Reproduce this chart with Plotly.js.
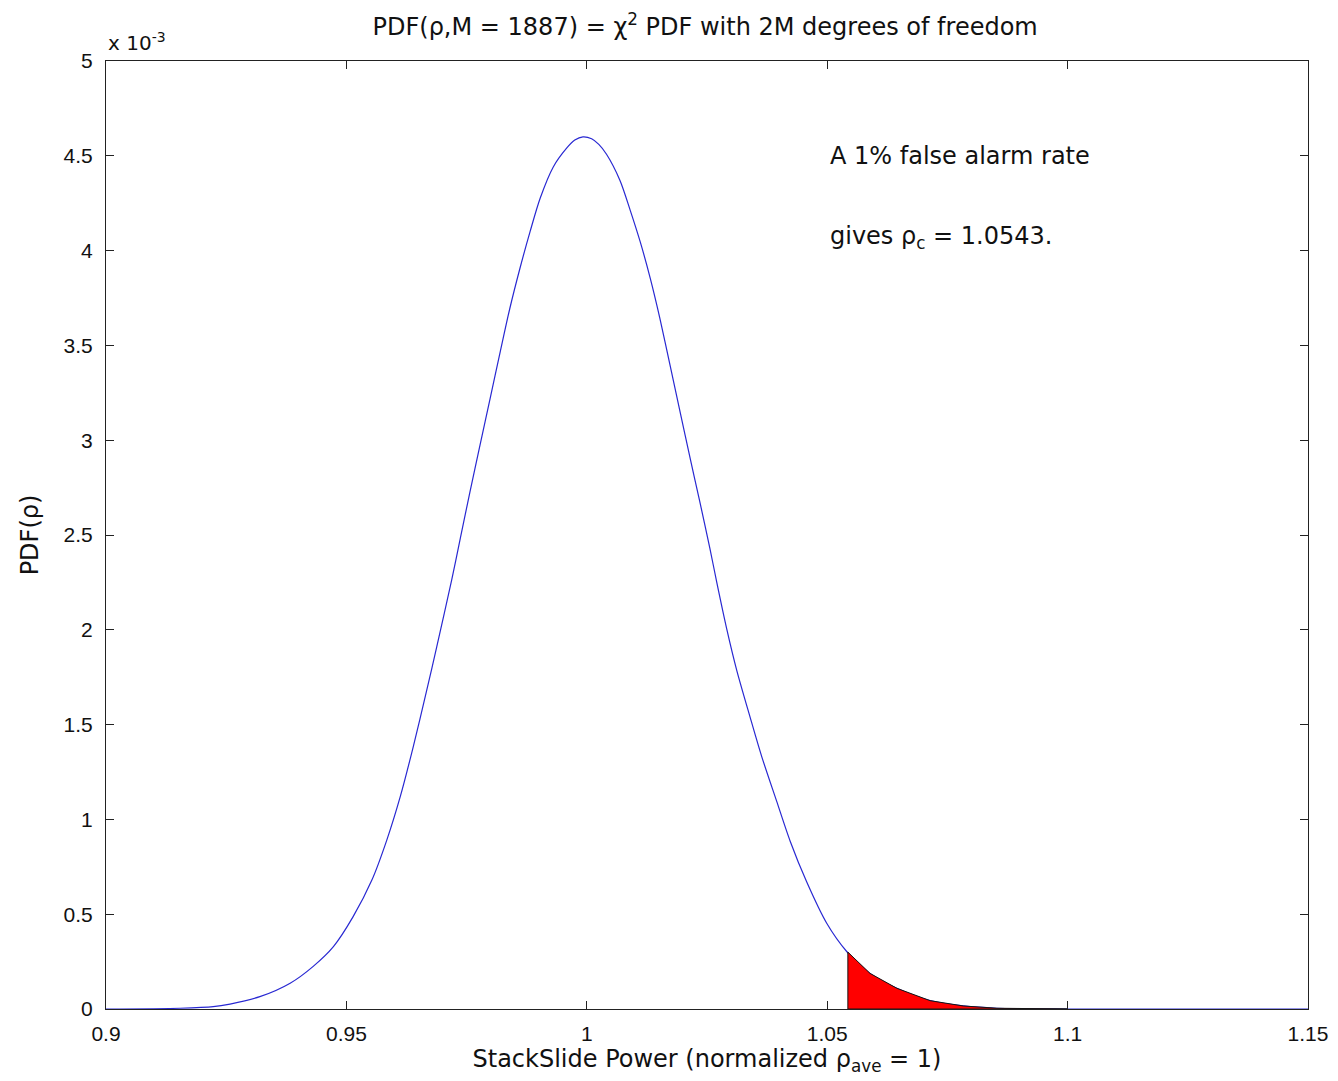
<!DOCTYPE html>
<html>
<head>
<meta charset="utf-8">
<script src="https://cdn.plot.ly/plotly-3.0.1.min.js"></script>
<style>html,body{margin:0;padding:0;background:#fff;}#chart{width:1338px;height:1081px;}</style>
</head>
<body>
<div id="chart"></div>
<script>
// StackSlide power (normalized) and PDF values (in units of 1e-3)
const rho = [0.9000, 0.9154, 0.9223, 0.9258, 0.9320, 0.9383, 0.9431, 0.9473, 0.9514, 0.9553,
             0.9584, 0.9612, 0.9639, 0.9667, 0.9688, 0.9719, 0.9737, 0.9757, 0.9778, 0.9799,
             0.9820, 0.9840, 0.9861, 0.9882, 0.9903, 0.9930, 0.9958, 0.9975, 0.9992, 1.0010,
             1.0025, 1.0041, 1.0069,
             1.0090, 1.0111, 1.0132, 1.0152, 1.0173, 1.0194, 1.0215, 1.0235, 1.0256, 1.0270,
             1.0291, 1.0312, 1.0339, 1.0364, 1.0395, 1.0423, 1.0457, 1.0499, 1.0541, 1.0589,
             1.0645, 1.0714, 1.0783, 1.0853, 1.1000, 1.1500];
const pdfE3 = [0.000, 0.004, 0.012, 0.026, 0.065, 0.136, 0.225, 0.329, 0.487, 0.680,
               0.891, 1.120, 1.383, 1.680, 1.911, 2.263, 2.483, 2.728, 2.975, 3.221,
               3.467, 3.696, 3.907, 4.100, 4.276, 4.440, 4.540, 4.583, 4.600, 4.590,
               4.560, 4.508, 4.370,
               4.215, 4.047, 3.854, 3.643, 3.397, 3.150, 2.904, 2.676, 2.430, 2.254,
               2.005, 1.785, 1.545, 1.330, 1.095, 0.885, 0.672, 0.452, 0.302, 0.188,
               0.109, 0.044, 0.016, 0.004, 0.000, 0.000];
// false-alarm tail region (rho >= rho_c)
const rhoC = 1.0543;
const tailRho = [1.0543, 1.0543, 1.0589, 1.0645, 1.0714, 1.0783, 1.0853, 1.1000, 1.0543];
const tailPdfE3 = [0.000, 0.300, 0.188, 0.109, 0.044, 0.016, 0.004, 0.000, 0.000];

const xTicks = [0.9, 0.95, 1, 1.05, 1.1, 1.15];
const xTickText = ["0.9", "0.95", "1", "1.05", "1.1", "1.15"];
const yTicks = [0, 0.5, 1, 1.5, 2, 2.5, 3, 3.5, 4, 4.5, 5];
const yTickText = ["0", "0.5", "1", "1.5", "2", "2.5", "3", "3.5", "4", "4.5", "5"];

const TICKFONT = "Liberation Sans, Arial, Helvetica, sans-serif";
const FONT = "DejaVu Sans, Liberation Sans, Arial, sans-serif";

const traces = [
  {
    x: rho, y: pdfE3, type: "scatter", mode: "lines",
    line: {color: "rgb(40,40,210)", width: 1.2, shape: "spline", smoothing: 0.8},
    hoverinfo: "skip", showlegend: false
  },
  {
    x: tailRho, y: tailPdfE3, type: "scatter", mode: "lines",
    fill: "toself", fillcolor: "rgb(255,0,0)",
    line: {color: "rgb(20,20,20)", width: 1},
    hoverinfo: "skip", showlegend: false
  }
];

const axisCommon = {
  showgrid: false, zeroline: false, showline: true, linecolor: "#222", linewidth: 1,
  mirror: "allticks", ticks: "inside", ticklen: 8, tickwidth: 1, tickcolor: "#222",
  tickfont: {family: TICKFONT, size: 21, color: "#111"}
};

const layout = {
  width: 1338, height: 1081,
  paper_bgcolor: "#fff", plot_bgcolor: "#fff",
  margin: {l: 106, r: 30, t: 61, b: 72},
  title: {
    text: "PDF(ρ,M = 1887) = χ<sup>2</sup> PDF with 2M degrees of freedom",
    font: {family: FONT, size: 24, color: "#111"},
    x: 0.527, xanchor: "center", y: 1 - 27/1081, yanchor: "middle", yref: "container"
  },
  xaxis: Object.assign({}, axisCommon, {
    range: [0.9, 1.15], tickvals: xTicks, ticktext: xTickText, ticklabelstandoff: 6,
    title: {text: "StackSlide Power (normalized ρ<sub>ave</sub> = 1)",
            font: {family: FONT, size: 24, color: "#111"}, standoff: 0}
  }),
  yaxis: Object.assign({}, axisCommon, {
    range: [0, 5], tickvals: yTicks, ticktext: yTickText, ticklabelstandoff: 8,
    title: {text: "PDF(ρ)", font: {family: FONT, size: 24, color: "#111"}, standoff: 18}
  }),
  annotations: [
    {text: "x 10<sup>-3</sup>", xref: "paper", yref: "paper", x: 0, y: 1, xanchor: "left", yanchor: "bottom",
     yshift: 4, showarrow: false, font: {family: FONT, size: 20, color: "#111"}},
    {text: "A 1% false alarm rate", xref: "x", yref: "y", x: 1.0502, y: 4.50, xanchor: "left", yanchor: "middle",
     showarrow: false, font: {family: FONT, size: 24, color: "#111"}},
    {text: "gives ρ<sub>c</sub> = " + rhoC.toFixed(4) + ".", xref: "x", yref: "y", x: 1.0502, y: 4.07, xanchor: "left", yanchor: "middle",
     showarrow: false, font: {family: FONT, size: 24, color: "#111"}}
  ]
};

Plotly.newPlot("chart", traces, layout, {staticPlot: true, displayModeBar: false});
</script>
</body>
</html>
